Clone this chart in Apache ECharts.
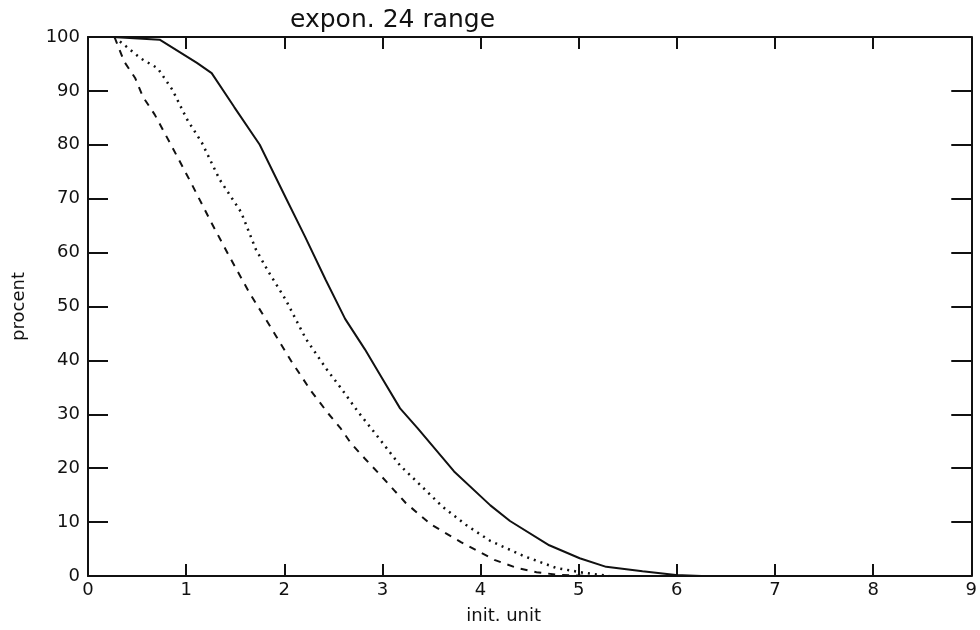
<!DOCTYPE html>
<html>
<head>
<meta charset="utf-8">
<script src="https://cdn.jsdelivr.net/npm/echarts@6/dist/echarts.min.js"></script>
<style>
html,body{margin:0;padding:0;background:#fff;}
#chart{width:980px;height:630px;}
</style>
</head>
<body>
<div id="chart"></div>
<script>
// values
const solidX = [0.25,0.73,1.11,1.26,1.49,1.75,2.02,2.21,2.42,2.62,2.82,2.98,3.18,3.36,3.73,4.10,4.30,4.70,5.01,5.28,5.65,5.99,6.25]
const solidY = [100,99.5,95.2,93.3,87,80,70,63,55,47.7,42.1,37.2,31.1,27.4,19.4,13.1,10.2,5.7,3.3,1.7,0.9,0.2,0]

const dottedX = [0.27,0.54,0.71,0.86,1.01,1.16,1.34,1.56,1.71,1.84,2.01,2.22,2.43,2.58,2.75,2.95,3.18,3.39,3.61,3.85,4.10,4.44,4.77,5.05,5.31]
const dottedY = [100,96,94.2,90.2,84.7,80.4,73.6,67.5,60.6,56.4,51.4,44,38.4,34.8,30.5,25.9,20.5,16.8,12.9,9.5,6.5,3.7,1.5,0.6,0]

const dashedX = [0.27,0.37,0.48,0.56,0.68,0.86,1.06,1.25,1.44,1.64,1.86,2.07,2.27,2.45,2.57,2.68,2.82,2.97,3.12,3.24,3.5,3.8,4.14,4.37,4.57,4.8,5.08]
const dashedY = [100,95.4,92.4,88.9,85.6,79.5,72.6,65.8,59.3,52.7,46.2,39.9,34.4,30.1,27.5,24.6,21.8,18.9,15.9,13.5,9.5,6.3,3.0,1.5,0.7,0.2,0]

const xTicks = [0,1,2,3,4,5,6,7,8,9]
const yTicks = [0,10,20,30,40,50,60,70,80,90,100]

const font = 'DejaVu Sans'
const pair = (xs, ys) => xs.map((x, i) => [x, ys[i]])

const mychart = echarts.init(document.getElementById('chart'))

// onZero off, otherwise the mirrored axes sit on the other axis' zero
const axisLine = { show: true, onZero: false, lineStyle: { color: '#111', width: 2 } }
const xTick = { show: true, inside: true, length: 12, lineStyle: { color: '#111', width: 2 } }
const yTick = { show: true, inside: true, length: 20, lineStyle: { color: '#111', width: 2 } }

const option = {
  animation: false,
  title: {
    text: 'expon. 24 range',
    left: 285,
    top: 3,
    textStyle: { fontFamily: font, fontSize: 25, fontWeight: 'normal', color: '#111' }
  },
  grid: { left: 88, right: 2, top: 37, bottom: 52 },
  xAxis: [{
    type: 'value',
    min: xTicks[0],
    max: xTicks[xTicks.length - 1],
    interval: 1,
    name: 'init. unit',
    nameLocation: 'middle',
    nameGap: 31,
    nameTextStyle: { fontFamily: font, fontSize: 18, color: '#111', padding: [0, 52, 0, 0] },
    axisLine: axisLine,
    axisTick: xTick,
    axisLabel: { fontFamily: font, fontSize: 18, color: '#111', margin: 5 },
    splitLine: { show: false }
  }, {
    type: 'value',
    position: 'top',
    min: xTicks[0],
    max: xTicks[xTicks.length - 1],
    interval: 1,
    axisLine: axisLine,
    axisTick: xTick,
    axisLabel: { show: false },
    splitLine: { show: false }
  }],
  yAxis: [{
    type: 'value',
    min: yTicks[0],
    max: yTicks[yTicks.length - 1],
    interval: 10,
    name: 'procent',
    nameLocation: 'middle',
    nameGap: 60,
    nameTextStyle: { fontFamily: font, fontSize: 18, color: '#111' },
    axisLine: axisLine,
    axisTick: yTick,
    axisLabel: { fontFamily: font, fontSize: 18, color: '#111', margin: 8 },
    splitLine: { show: false }
  }, {
    type: 'value',
    position: 'right',
    min: yTicks[0],
    max: yTicks[yTicks.length - 1],
    interval: 10,
    axisLine: axisLine,
    axisTick: yTick,
    axisLabel: { show: false },
    splitLine: { show: false }
  }],
  series: [{
    type: 'line',
    data: pair(solidX, solidY),
    showSymbol: false,
    lineStyle: { color: '#111', width: 2, type: 'solid' }
  }, {
    type: 'line',
    data: pair(dottedX, dottedY),
    showSymbol: false,
    lineStyle: { color: '#111', width: 2.5, type: [2, 5] }
  }, {
    type: 'line',
    data: pair(dashedX, dashedY),
    showSymbol: false,
    lineStyle: { color: '#111', width: 2, type: [7, 7] }
  }]
}
mychart.setOption(option, true)
</script>
</body>
</html>
